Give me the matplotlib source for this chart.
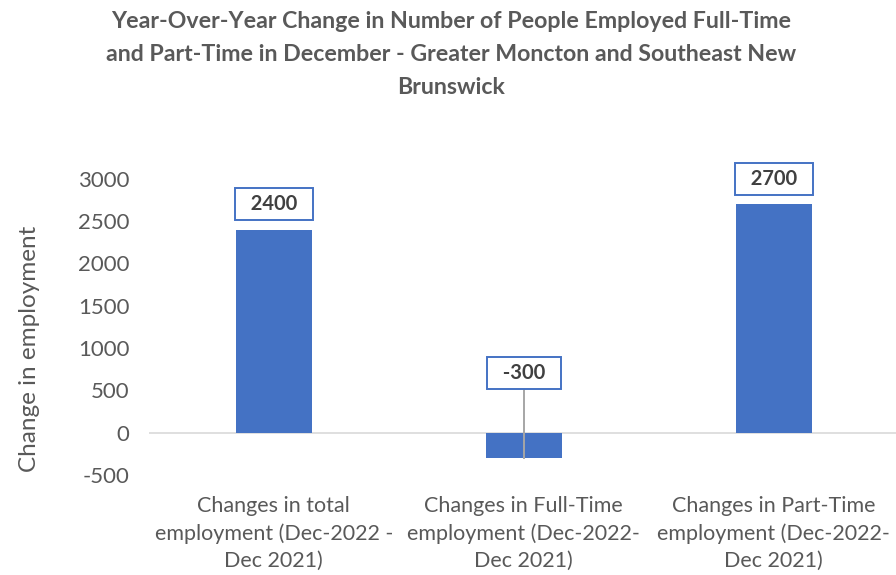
import matplotlib.pyplot as plt

CATEGORIES = [
    "Changes in total\nemployment (Dec-2022 -\nDec 2021)",
    "Changes in Full-Time\nemployment (Dec-2022-\nDec 2021)",
    "Changes in Part-Time\nemployment (Dec-2022-\nDec 2021)",
]
VALUES = [2400, -300, 2700]
Y_TICKS = [-500, 0, 500, 1000, 1500, 2000, 2500, 3000]

BAR_COLOR = "#4472C4"
TEXT_COLOR = "#595959"


def main():
    plt.rcParams["font.family"] = ["Lato", "DejaVu Sans"]
    fig = plt.figure(figsize=(8.96, 5.75), dpi=100)
    ax = fig.add_axes([0.166, 0.174, 0.837, 0.515])

    x = list(range(len(CATEGORIES)))
    ax.bar(x, VALUES, width=0.304, color=BAR_COLOR, zorder=2)
    ax.axhline(0, color="#D9D9D9", linewidth=1.2, zorder=1)

    ax.set_xlim(-0.5, 2.5)
    ax.set_ylim(-500, 3000)
    ax.set_yticks(Y_TICKS)
    ax.set_yticklabels([str(v) for v in Y_TICKS], fontsize=16, color=TEXT_COLOR)
    ax.set_xticks(x)
    ax.set_xticklabels(CATEGORIES, fontsize=15.5, color=TEXT_COLOR, linespacing=1.45)
    ax.tick_params(axis="both", length=0)
    ax.tick_params(axis="x", pad=15)
    ax.tick_params(axis="y", pad=14)
    for spine in ax.spines.values():
        spine.set_visible(False)

    # data labels: positive bars above, negative one lifted with a leader line
    box = dict(boxstyle="square,pad=0.3", facecolor="white", edgecolor=BAR_COLOR, linewidth=1.4)
    for xi, v in zip(x, VALUES):
        if v >= 0:
            ax.text(xi, v + 300, f"  {v}  ", ha="center", va="center", fontsize=14.5,
                    fontweight="bold", color="#404040", bbox=box, zorder=4)
        else:
            ax.plot([xi, xi], [v, 510], color="#A6A6A6", linewidth=1.4, zorder=3)
            ax.text(xi, 700, f"  {v}  ", ha="center", va="center", fontsize=14.5,
                    fontweight="bold", color="#404040", bbox=box, zorder=4)

    ax.set_ylabel("Change in employment", fontsize=17.5, color=TEXT_COLOR)
    ax.yaxis.set_label_coords(-0.145, 0.426)

    fig.text(0.503, 0.980,
             "Year-Over-Year Change in Number of People Employed Full-Time\n"
             "and Part-Time in December - Greater Moncton and Southeast New\n"
             "Brunswick",
             ha="center", va="top", fontsize=16.7, fontweight="bold",
             color=TEXT_COLOR, linespacing=1.68)

    fig.savefig("out.png", dpi=100, facecolor="white")


if __name__ == "__main__":
    main()
